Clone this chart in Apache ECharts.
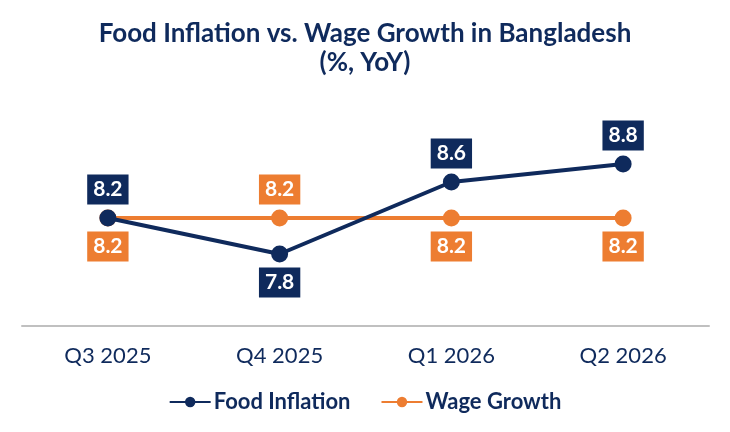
<!DOCTYPE html>
<html>
<head>
    <meta charset="UTF-8">
    <title>Food Inflation vs. Wage Growth</title>
    <script src="https://cdn.jsdelivr.net/npm/echarts@6/dist/echarts.min.js"></script>
</head>
<body style="margin:0">
    <div id="main" style="height:432px;width:730px;"></div>
    <script>
        var quarters = ['Q3 2025', 'Q4 2025', 'Q1 2026', 'Q2 2026'];
        var foodInflation = [8.2, 7.8, 8.6, 8.8];
        var wageGrowth = [8.2, 8.2, 8.2, 8.2];
        // which labels sit below the point
        var foodBelow = [false, true, false, false];
        var wageBelow = [true, false, true, true];

        var navy = '#0f2a5c';
        var orange = '#ed7d31';

        function withLabels(values, below) {
            return values.map(function (v, i) {
                return {
                    value: v,
                    label: {
                        position: below[i] ? 'bottom' : 'top',
                        distance: 5
                    }
                };
            });
        }

        function boxLabel(color) {
            return {
                show: true,
                formatter: function (p) { return p.value.toFixed(1); },
                backgroundColor: color,
                color: '#fff',
                fontFamily: 'Lato',
                fontWeight: 'bold',
                fontSize: 21,
                lineHeight: 22,
                padding: [4, 6, 4, 6]
            };
        }

        var myChart = echarts.init(document.getElementById('main'));
        var option = {
            title: {
                text: 'Food Inflation vs. Wage Growth in Bangladesh\n(%, YoY)',
                left: 'center',
                top: 14,
                textStyle: {
                    fontFamily: 'Lato',
                    fontWeight: 'bold',
                    fontSize: 26,
                    lineHeight: 29,
                    color: navy
                }
            },
            legend: {
                bottom: 14,
                itemWidth: 41,
                itemHeight: 13,
                itemGap: 30,
                textStyle: { fontFamily: 'Lato', fontWeight: 'bold', fontSize: 22, color: navy, padding: [0, 0, 0, -2] },
                data: ['Food Inflation', 'Wage Growth']
            },
            grid: { left: 22, right: 21, top: 146, bottom: 106 },
            xAxis: {
                type: 'category',
                data: quarters,
                axisLine: { lineStyle: { color: '#c0c0c0', width: 2 } },
                axisTick: { show: false },
                axisLabel: { margin: 19, fontFamily: 'Lato', fontSize: 22, color: navy }
            },
            yAxis: {
                type: 'value',
                min: 7,
                max: 9,
                show: false,
                splitLine: { show: false }
            },
            series: [{
                name: 'Food Inflation',
                type: 'line',
                data: withLabels(foodInflation, foodBelow),
                symbol: 'circle',
                symbolSize: 17,
                lineStyle: { color: navy, width: 4 },
                itemStyle: { color: navy },
                label: boxLabel(navy),
                z: 3
            }, {
                name: 'Wage Growth',
                type: 'line',
                data: withLabels(wageGrowth, wageBelow),
                symbol: 'circle',
                symbolSize: 17,
                lineStyle: { color: orange, width: 4 },
                itemStyle: { color: orange },
                label: boxLabel(orange),
                z: 2
            }],
            animation: false
        };
        myChart.setOption(option);
    </script>
</body>
</html>
